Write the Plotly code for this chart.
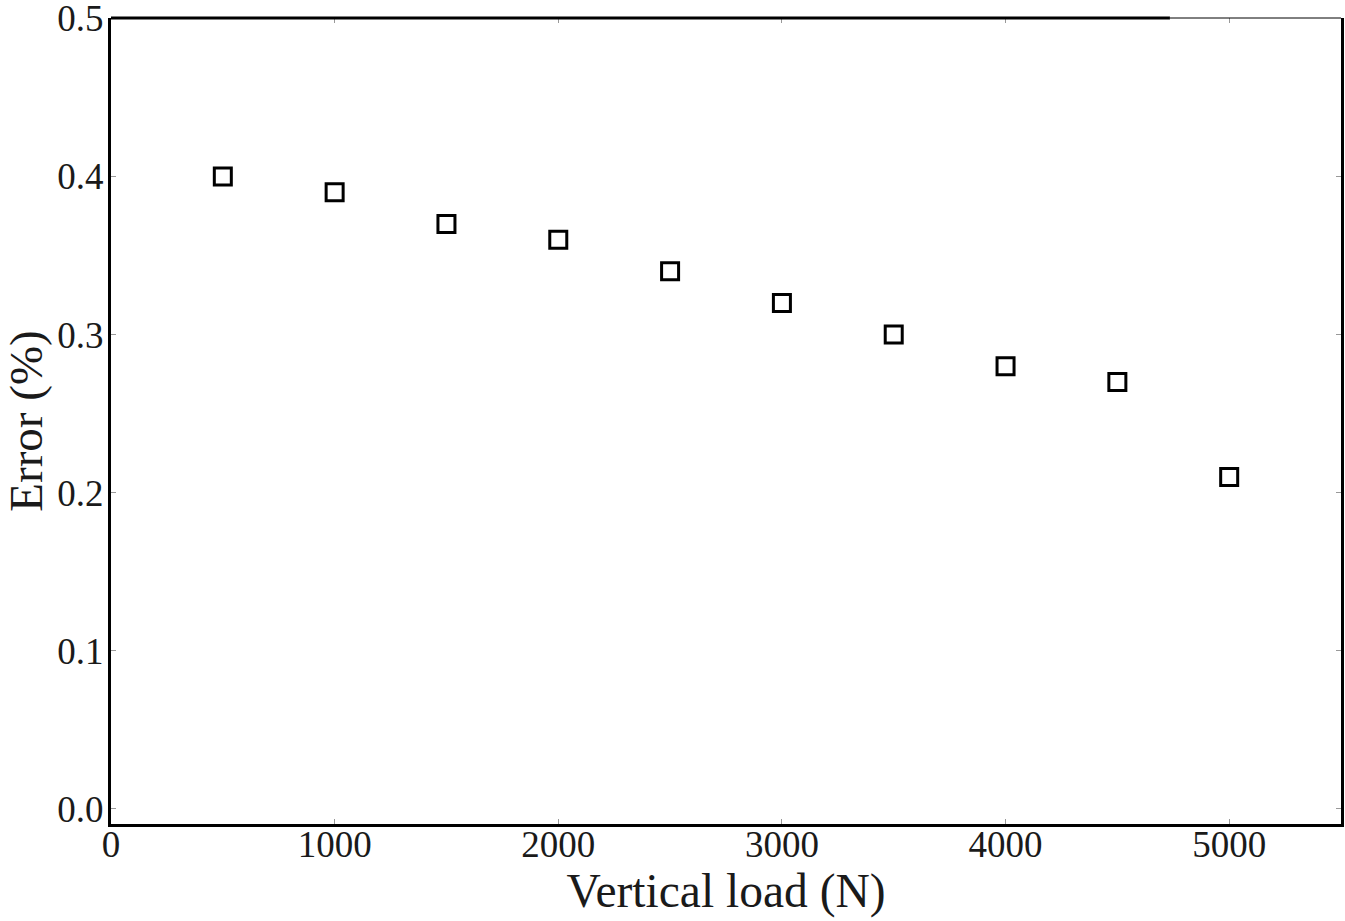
import plotly.graph_objects as go

loads = [500, 1000, 1500, 2000, 2500, 3000, 3500, 4000, 4500, 5000]
errors = [0.40, 0.39, 0.37, 0.36, 0.34, 0.32, 0.30, 0.28, 0.27, 0.21]
x_ticks = [0, 1000, 2000, 3000, 4000, 5000]
y_ticks = [0.0, 0.1, 0.2, 0.3, 0.4, 0.5]
x_range = [0, 5500]
y_range = [-0.0095, 0.5002]

font_family = "Liberation Serif, DejaVu Serif, serif"

fig = go.Figure()
fig.add_trace(go.Scatter(
    x=loads, y=errors, mode="markers",
    marker=dict(symbol="square-open", size=17, color="black", line=dict(width=3, color="black")),
    showlegend=False,
))
# invisible trace to create a top axis for mirrored ticks
fig.add_trace(go.Scatter(x=[], y=[], xaxis="x2", showlegend=False))

fig.update_layout(
    width=1345, height=921,
    margin=dict(l=111, r=4, t=18, b=97),
    paper_bgcolor="white", plot_bgcolor="white",
    font=dict(family=font_family, size=37, color="#1a1a1a"),
    xaxis=dict(
        range=x_range, tickvals=x_ticks, ticktext=[str(v) for v in x_ticks],
        showgrid=False, zeroline=False, showline=True, linecolor="black", linewidth=3,
        ticks="inside", ticklen=5, tickwidth=1, tickcolor="#999", ticklabelstandoff=-14,
        ticklabeloverflow="allow", automargin=False,
        title=dict(text="Vertical load (N)", font=dict(size=47.5, family=font_family, color="#1a1a1a"), standoff=4),
    ),
    xaxis2=dict(
        range=x_range, overlaying="x", side="top", tickvals=x_ticks,
        showticklabels=False, showgrid=False, zeroline=False, showline=False,
        ticks="inside", ticklen=5, tickwidth=1, tickcolor="#999", automargin=False,
    ),
    yaxis=dict(
        range=y_range, tickvals=y_ticks, ticktext=[f"{v:.1f}" for v in y_ticks],
        showgrid=False, zeroline=False, showline=True, linecolor="black", linewidth=3,
        mirror="ticks", ticks="inside", ticklen=5, tickwidth=1, tickcolor="#999",
        ticklabelstandoff=-3, ticklabeloverflow="allow", automargin=False,
        title=dict(text="Error (%)", font=dict(size=47, family=font_family, color="#1a1a1a"), standoff=9),
    ),
    shapes=[
        dict(type="line", xref="x", yref="paper", x0=0, x1=4735, y0=1, y1=1,
             line=dict(color="black", width=3)),
        dict(type="line", xref="x", yref="paper", x0=4735, x1=5500, y0=1, y1=1,
             line=dict(color="black", width=1)),
    ],
)

fig.write_html("out.html")
